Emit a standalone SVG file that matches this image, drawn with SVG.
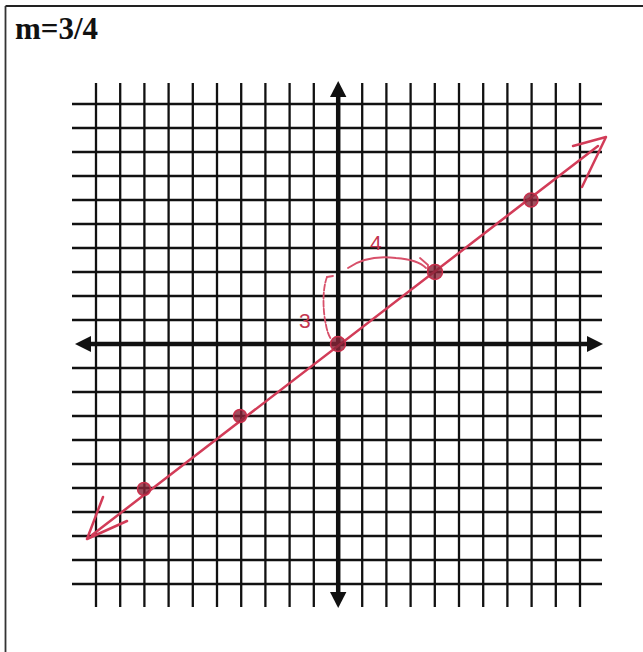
<svg xmlns="http://www.w3.org/2000/svg" width="643" height="652" viewBox="0 0 643 652">
<defs>
<style>
.grid line{stroke:#111;stroke-width:2.3}
.axis{stroke:#111;stroke-width:4.5;fill:none}
.head{fill:#111}
.red{stroke:#d23c58;stroke-width:2.5;fill:none;stroke-linecap:round;stroke-linejoin:round}
.redthin{stroke:#d8506a;stroke-width:1.8;fill:none;stroke-linecap:round}
.dot{fill:#8a2438;fill-opacity:0.8;stroke:#c8304c;stroke-width:1.5}
.hand{font-family:"Liberation Sans",Arial,sans-serif;font-size:21px;fill:#c43650}
</style>
</defs>
<rect x="0" y="0" width="643" height="652" fill="#fff"/>
<g id="frame">
<line x1="5.5" y1="6" x2="643" y2="6" stroke="#222" stroke-width="2"/>
<line x1="5.5" y1="6" x2="5.5" y2="652" stroke="#333" stroke-width="1.8"/>
</g>
<g id="title"><text x="15" y="39" font-family="Liberation Serif,'Times New Roman',serif" font-weight="bold" font-size="31" fill="#111">m=3/4</text></g>
<g id="grid" class="grid">
<line x1="96" y1="83" x2="96" y2="607"/><line x1="120.2" y1="83" x2="120.2" y2="607"/><line x1="144.4" y1="83" x2="144.4" y2="607"/><line x1="168.6" y1="83" x2="168.6" y2="607"/><line x1="192.8" y1="83" x2="192.8" y2="607"/><line x1="217" y1="83" x2="217" y2="607"/><line x1="241.2" y1="83" x2="241.2" y2="607"/><line x1="265.4" y1="83" x2="265.4" y2="607"/><line x1="289.6" y1="83" x2="289.6" y2="607"/><line x1="313.8" y1="83" x2="313.8" y2="607"/><line x1="362.2" y1="83" x2="362.2" y2="607"/><line x1="386.4" y1="83" x2="386.4" y2="607"/><line x1="410.6" y1="83" x2="410.6" y2="607"/><line x1="434.8" y1="83" x2="434.8" y2="607"/><line x1="459" y1="83" x2="459" y2="607"/><line x1="483.2" y1="83" x2="483.2" y2="607"/><line x1="507.4" y1="83" x2="507.4" y2="607"/><line x1="531.6" y1="83" x2="531.6" y2="607"/><line x1="555.8" y1="83" x2="555.8" y2="607"/><line x1="580" y1="83" x2="580" y2="607"/>
<line x1="72" y1="104" x2="602" y2="104"/><line x1="72" y1="128" x2="602" y2="128"/><line x1="72" y1="152" x2="602" y2="152"/><line x1="72" y1="176" x2="602" y2="176"/><line x1="72" y1="200" x2="602" y2="200"/><line x1="72" y1="224" x2="602" y2="224"/><line x1="72" y1="248" x2="602" y2="248"/><line x1="72" y1="272" x2="602" y2="272"/><line x1="72" y1="296" x2="602" y2="296"/><line x1="72" y1="320" x2="602" y2="320"/><line x1="72" y1="368" x2="602" y2="368"/><line x1="72" y1="392" x2="602" y2="392"/><line x1="72" y1="416" x2="602" y2="416"/><line x1="72" y1="440" x2="602" y2="440"/><line x1="72" y1="464" x2="602" y2="464"/><line x1="72" y1="488" x2="602" y2="488"/><line x1="72" y1="512" x2="602" y2="512"/><line x1="72" y1="536" x2="602" y2="536"/><line x1="72" y1="560" x2="602" y2="560"/><line x1="72" y1="584" x2="602" y2="584"/>
</g>
<g id="axes">
<line class="axis" x1="88" y1="344" x2="590" y2="344"/>
<line class="axis" x1="338.2" y1="95" x2="338.2" y2="594"/>
<polygon class="head" points="75,344 91,336 91,352"/>
<polygon class="head" points="603,344 587,336 587,352"/>
<polygon class="head" points="338.2,81 330,97 346.4,97"/>
<polygon class="head" points="338.2,608 330,592 346.4,592"/>
</g>
<g id="connectors">
<line class="red" x1="92" y1="535" x2="598" y2="146"/>
<polyline class="red" points="103,497 87,539 127,521"/>
<polyline class="red" points="573,146 606,137 582,187"/>
<path class="redthin" d="M348,268 C362,258 380,256 396,258 C410,259 420,262 426,268"/>
<path class="redthin" d="M420,258 L428,265 L428,272"/>
<path class="redthin" d="M327,277 C322,290 323,312 326,325 C327,331 329,336 331,339" stroke-dasharray="6 2"/>
<path class="redthin" d="M327,277 L333,276"/>
</g>
<g id="points">
<circle class="dot" cx="144" cy="489" r="6.5"/>
<circle class="dot" cx="240" cy="416" r="6.5"/>
<circle class="dot" cx="338" cy="344" r="7.5"/>
<circle class="dot" cx="435" cy="272" r="7.5"/>
<circle class="dot" cx="531" cy="200" r="7"/>
</g>
<g id="labels">
<text class="hand" x="370" y="250">4</text>
<text class="hand" x="299" y="328">3</text>
</g>
</svg>
